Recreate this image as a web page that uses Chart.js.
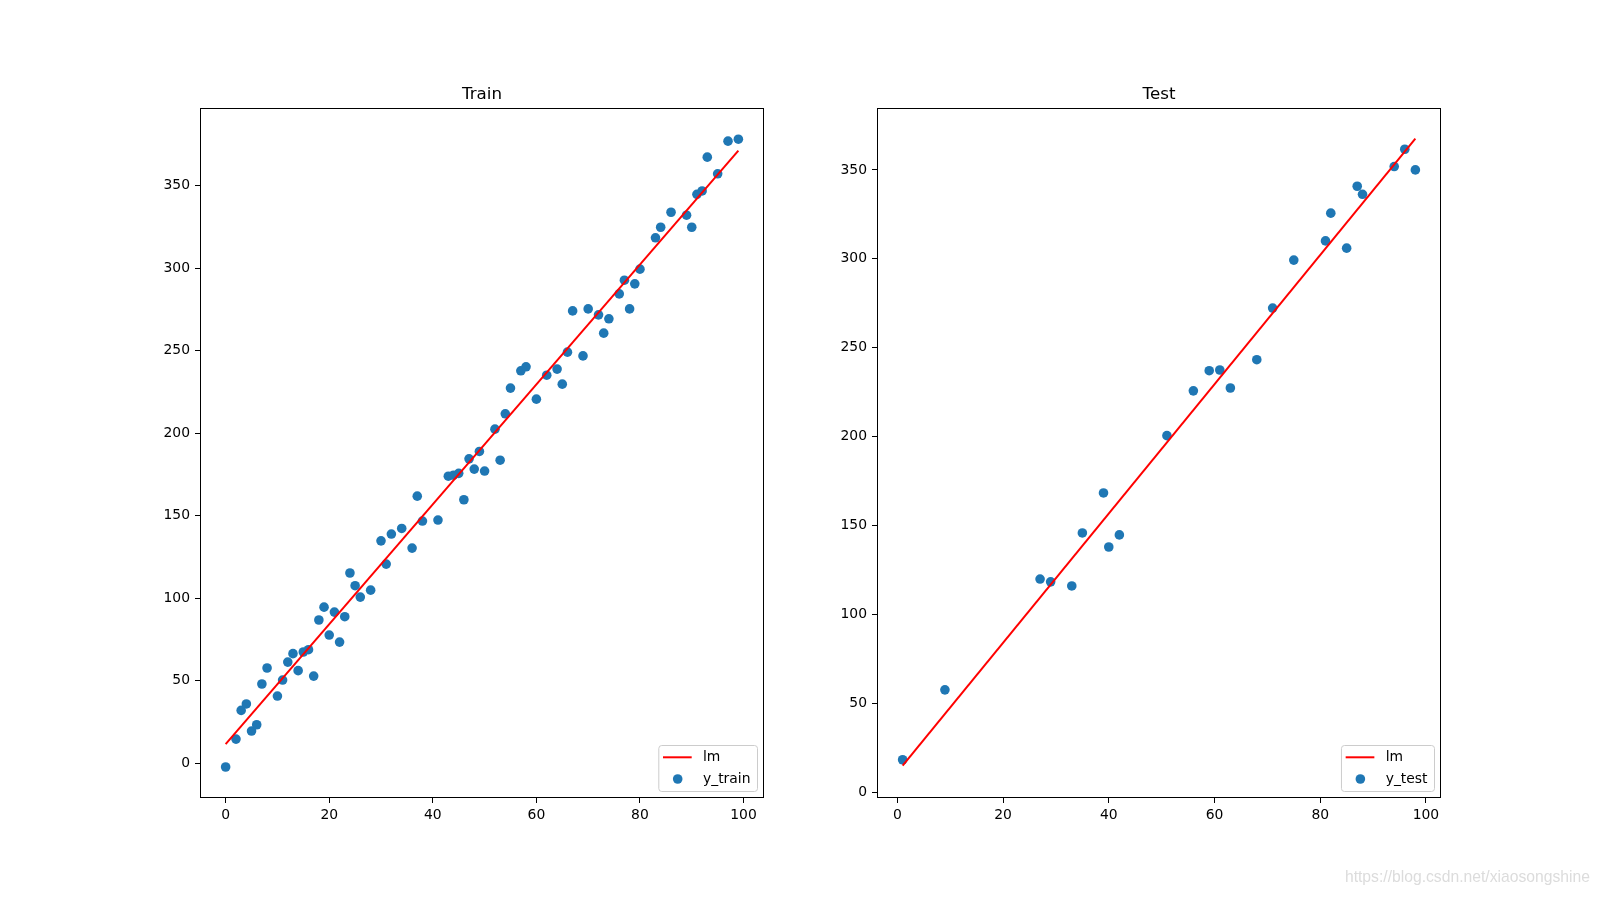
<!DOCTYPE html>
<html>
<head>
<meta charset="utf-8">
<title>Train / Test</title>
<script src="https://cdn.jsdelivr.net/npm/chart.js@4.4.0/dist/chart.umd.min.js"></script>
<style>
  html, body { margin: 0; padding: 0; background: #fff; }
  #wrap { position: relative; width: 1600px; height: 897px; overflow: hidden; }
  canvas { position: absolute; top: 0; }
  #train { left: 0; }
  #test { left: 800px; }
  #mark {
    position: absolute; right: 10px; top: 869px;
    font: 15.7px "Liberation Sans", Arial, sans-serif; line-height: 16px;
    color: #dcdcdc; white-space: nowrap;
  }
</style>
</head>
<body>
<div id="wrap">
  <canvas id="train" width="800" height="897"></canvas>
  <canvas id="test" width="800" height="897"></canvas>
  <div id="mark">https://blog.csdn.net/xiaosongshine</div>
</div>
<script>
const FONT = '"DejaVu Sans", sans-serif';
const BLUE = '#1f77b4';

// train split (75 points)
const trainX = [0, 2, 3, 4, 5, 6, 7, 8, 10, 11, 12, 13, 14, 15, 16, 17, 18, 19, 20, 21,
  22, 23, 24, 25, 26, 28, 30, 31, 32, 34, 36, 37, 38, 41, 43, 44, 45, 46, 47, 48,
  49, 50, 52, 53, 54, 55, 57, 58, 60, 62, 64, 65, 66, 67, 69, 70, 72, 73, 74, 76,
  77, 78, 79, 80, 83, 84, 86, 89, 90, 91, 92, 93, 95, 97, 99];
const trainY = [-2.4, 14.5, 31.9, 35.8, 19.4, 23.2, 47.9, 57.6, 40.6, 50.3, 61.2, 66.3, 56.0, 67.3, 68.7, 52.7, 86.7, 94.5, 77.6, 91.5,
  73.3, 88.7, 115.2, 107.5, 100.6, 104.8, 134.7, 120.6, 138.8, 142.2, 130.3, 161.8, 146.7, 147.3, 173.9, 174.5, 175.6, 159.6, 184.4, 178.2,
  188.9, 177.0, 202.4, 183.6, 211.7, 227.3, 237.8, 240.2, 220.6, 235.1, 238.8, 229.7, 249.1, 274.1, 246.8, 275.3, 271.7, 260.6, 269.3, 284.4,
  292.7, 275.3, 290.5, 299.4, 318.4, 324.8, 333.9, 332.1, 324.8, 344.8, 346.8, 367.3, 357.2, 377.0, 378.2];
const trainLmX = [0, 99];
const trainLmY = [11.5, 371.3];

// test split (25 points)
const testX = [1, 9, 27, 29, 33, 35, 39, 40, 42, 51, 56, 59, 61, 63, 68, 71, 75, 81, 82, 85, 87, 88, 94, 96, 98];
const testY = [18.4, 57.7, 120.0, 118.4, 116.1, 145.9, 168.4, 138.0, 144.8, 200.6, 225.8, 237.1, 237.5, 227.4, 243.3,
  272.3, 299.3, 310.1, 325.7, 306.0, 340.8, 336.3, 351.9, 361.6, 350.0];
const testLmX = [1, 98];
const testLmY = [15.1, 367.6];

const xTicks = [0, 20, 40, 60, 80, 100];
const trainYTicks = [0, 50, 100, 150, 200, 250, 300, 350];
const testYTicks = [0, 50, 100, 150, 200, 250, 300, 350];

const trainXRange = [-4.95, 103.95];
const trainYRange = [-21.2, 397.1];
const testXRange = [-3.85, 102.85];
const testYRange = [-3.1, 384.8];

function axis(range, ticks, size, isX) {
  return {
    type: 'linear',
    min: range[0],
    max: range[1],
    afterBuildTicks: s => { s.ticks = ticks.map(v => ({ value: v })); },
    afterFit: s => { if (isX) s.height = size; else s.width = size; },
    grid: { drawOnChartArea: false, drawTicks: true, tickLength: 5, tickColor: '#000', tickWidth: 1 },
    border: { display: false },
    ticks: { color: '#000', font: { family: FONT, size: 13.9 }, padding: isX ? 4 : 5, maxRotation: 0, autoSkip: false }
  };
}

// frame, title and matplotlib-like legend
function decor(title) {
  return {
    id: 'decor',
    afterDraw(chart) {
      const { ctx, chartArea: a } = chart;
      ctx.save();
      ctx.strokeStyle = '#000';
      ctx.lineWidth = 1;
      const l = Math.round(a.left) + 0.5, t = Math.round(a.top) + 0.5;
      const r = Math.round(a.right) - 0.5, b = Math.round(a.bottom) - 0.5;
      ctx.strokeRect(l, t, r - l, b - t);

      ctx.fillStyle = '#000';
      ctx.font = '16.7px ' + FONT;
      ctx.textAlign = 'center';
      ctx.textBaseline = 'alphabetic';
      ctx.fillText(title, (a.left + a.right) / 2, a.top - 9.3);

      const ds = chart.data.datasets;
      ctx.font = '13.9px ' + FONT;
      const tw = Math.max(...ds.map(d => ctx.measureText(d.label).width));
      const w = 44.7 + tw + 6.5, h = 46;
      const bx = a.right - 7 - w, by = a.bottom - 7 - h;
      ctx.beginPath();
      ctx.roundRect(bx + 0.5, by + 0.5, w, h, 3);
      ctx.fillStyle = 'rgba(255,255,255,0.8)';
      ctx.fill();
      ctx.strokeStyle = '#cccccc';
      ctx.stroke();

      const y1 = by + 12.3, y2 = by + 34;
      ctx.beginPath();
      ctx.moveTo(bx + 4.7, y1);
      ctx.lineTo(bx + 33.4, y1);
      ctx.strokeStyle = ds[0].borderColor;
      ctx.lineWidth = 2;
      ctx.stroke();
      ctx.beginPath();
      ctx.arc(bx + 19.4, y2, 4.8, 0, Math.PI * 2);
      ctx.fillStyle = ds[1].backgroundColor;
      ctx.fill();

      ctx.fillStyle = '#000';
      ctx.textAlign = 'left';
      ctx.textBaseline = 'middle';
      ctx.fillText(ds[0].label, bx + 44.7, y1 + 0.5);
      ctx.fillText(ds[1].label, bx + 44.7, y2 + 0.5);
      ctx.restore();
    }
  };
}

function makeChart(id, title, label, xs, ys, lmX, lmY, xRange, yRange, yTicks, pad) {
  const pts = xs.map((x, i) => ({ x, y: ys[i] }));
  const line = lmX.map((x, i) => ({ x, y: lmY[i] }));
  return new Chart(document.getElementById(id), {
    type: 'scatter',
    data: {
      datasets: [
        { type: 'line', label: 'lm', data: line, borderColor: 'red', borderWidth: 2,
          pointRadius: 0, fill: false, tension: 0 },
        { label, data: pts, backgroundColor: BLUE, borderWidth: 0, pointRadius: 4.8, pointHoverRadius: 4.8 }
      ]
    },
    options: {
      responsive: false,
      animation: false,
      devicePixelRatio: 1,
      layout: { padding: pad },
      plugins: { legend: { display: false }, tooltip: { enabled: false }, title: { display: false } },
      scales: {
        x: axis(xRange, xTicks, 40, true),
        y: axis(yRange, yTicks, 50, false)
      }
    },
    plugins: [decor(title)]
  });
}

makeChart('train', 'Train', 'y_train', trainX, trainY, trainLmX, trainLmY,
  trainXRange, trainYRange, trainYTicks, { left: 150, right: 36, top: 108, bottom: 59 });
makeChart('test', 'Test', 'y_test', testX, testY, testLmX, testLmY,
  testXRange, testYRange, testYTicks, { left: 27, right: 159, top: 108, bottom: 59 });
</script>
</body>
</html>
